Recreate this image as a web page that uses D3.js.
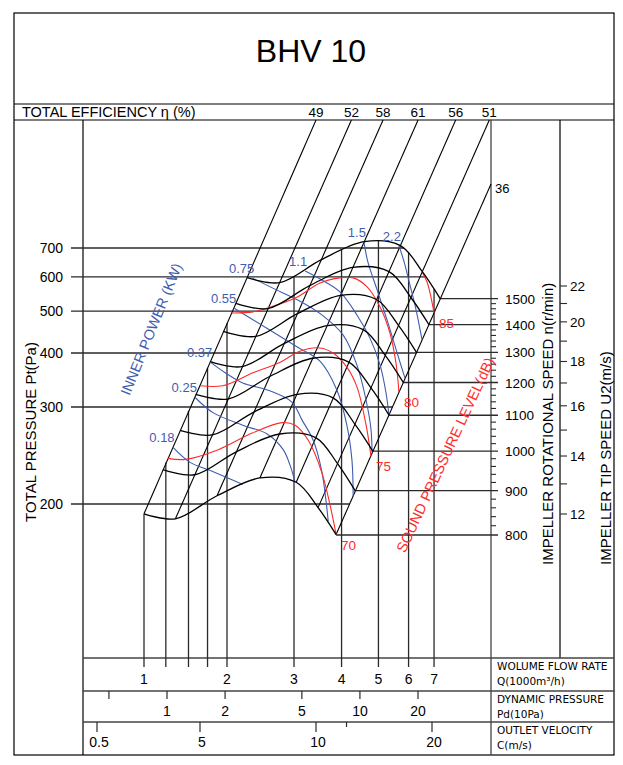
<!DOCTYPE html>
<html>
<head>
<meta charset="utf-8">
<title>BHV 10</title>
<script src="https://cdn.jsdelivr.net/npm/d3@7"></script>
<style>
    html, body { margin: 0; padding: 0; background: #fff; }
    svg { display: block; font-family: "Liberation Sans", Arial, sans-serif; }
</style>
</head>
<body>
<div id="chart"></div>
<script>
// values
const chartTitle = 'BHV 10';
const speeds = [800, 900, 1000, 1100, 1200, 1300, 1400, 1500];

// fan curves, one row per speed, points where the efficiency lines cross
const fanFlow = [
    [1.00, 1.30, 1.84, 2.44, 3.04, 3.47, 3.87],
    [1.17, 1.53, 2.12, 2.75, 3.42, 3.90, 4.35],
    [1.35, 1.77, 2.36, 3.06, 3.80, 4.34, 4.84],
    [1.54, 2.01, 2.59, 3.36, 4.18, 4.78, 5.33],
    [1.74, 2.19, 2.83, 3.67, 4.56, 5.21, 5.81],
    [1.94, 2.38, 3.07, 3.98, 4.94, 5.65, 6.30],
    [2.11, 2.56, 3.30, 4.28, 5.33, 6.09, 6.79],
    [2.26, 2.75, 3.54, 4.59, 5.71, 6.52, 7.27]
];
const fanPressure = [
    [192, 188, 207, 223, 219, 197, 176],
    [231, 226, 249, 268, 264, 237, 211],
    [272, 267, 294, 321, 315, 279, 249],
    [321, 313, 353, 389, 381, 332, 290],
    [382, 372, 421, 463, 453, 395, 342],
    [449, 437, 494, 544, 532, 463, 401],
    [521, 507, 573, 631, 617, 537, 465],
    [598, 582, 658, 724, 709, 617, 534]
];
const efficiencyLabels = ['49', '52', '58', '61', '56', '51', '36'];

// inner power (kW)
const powerLabels = ['0.18', '0.25', '0.37', '0.55', '0.75', '1.1', '1.5', '2.2'];
const powerFlow = [
    [1.27, 1.47, 1.74, 2.01, 2.20],
    [1.53, 1.78, 2.20, 2.55, 2.81, 2.93, 3.02],
    [1.74, 1.97, 2.20, 2.59, 2.96, 3.15, 3.37, 3.55, 3.64, 3.69],
    [2.09, 2.30, 2.59, 3.06, 3.51, 3.89, 4.13, 4.26, 4.29],
    [2.33, 2.63, 3.06, 3.55, 4.04, 4.39, 4.64, 4.78, 4.81],
    [3.21, 3.55, 3.96, 4.39, 4.75, 5.05, 5.23, 5.33],
    [4.58, 4.69, 4.96, 5.30, 5.59, 5.87],
    [5.66, 5.84, 6.05, 6.28, 6.51]
];
const powerPressure = [
    [254, 238, 230, 223, 217],
    [316, 293, 278, 268, 251, 235, 219],
    [381, 360, 341, 327, 308, 284, 261, 229, 203, 186],
    [508, 482, 452, 413, 383, 328, 278, 240, 207],
    [597, 566, 531, 490, 440, 375, 311, 273, 248],
    [619, 590, 554, 490, 433, 375, 325, 290],
    [723, 650, 560, 469, 402, 350],
    [709, 650, 575, 503, 429]
];

// sound pressure level (dB)
const soundLabels = ['70', '75', '80', '85'];
const soundFlow = [
    [1.22, 1.41, 1.86, 2.33, 2.79, 3.02, 3.27, 3.55, 3.78, 3.87],
    [1.60, 1.93, 2.34, 2.76, 3.11, 3.51, 3.80, 4.13, 4.39, 4.64, 4.78],
    [2.06, 2.34, 2.71, 3.06, 3.51, 3.96, 4.29, 4.67, 5.05, 5.36, 5.56, 5.66],
    [6.51, 6.71, 6.87, 7.00]
];
const soundPressure = [
    [242, 241, 251, 269, 281, 278, 261, 228, 191, 176],
    [336, 336, 360, 381, 404, 411, 400, 371, 334, 278, 244],
    [495, 498, 517, 539, 581, 597, 597, 569, 511, 445, 379, 325],
    [616, 584, 539, 495]
];

// axes
const pressureTicks = [200, 300, 400, 500, 600, 700];
const flowLines = [1, 1.2, 1.45, 1.7, 2, 3, 4, 5, 6, 7];
const flowTicks = [1, 2, 3, 4, 5, 6, 7];
const dynamicTicks = [0.5, 1, 2, 5, 10, 20];
const dynamicLabels = ['', '1', '2', '5', '10', '20'];
const velocityTicks = [0.5, 5, 10, 12, 20];
const velocityLabels = ['0.5', '5', '10', '', '20'];
const speedTicks = [800, 900, 1000, 1100, 1200, 1300, 1400, 1500];
const tipTicks = [12, 13, 14, 15, 16, 17, 18, 19, 20, 21, 22];
const tipLabels = ['12', '', '14', '', '16', '', '18', '', '20', '', '22'];
const rowCaptions = [
    ['WOLUME FLOW RATE', 'Q(1000m\u00b3/h)'],
    ['DYNAMIC PRESSURE', 'Pd(10Pa)'],
    ['OUTLET VELOCITY', 'C(m/s)']
];

const BLUE = '#3f5db0';
const RED = '#ff2a2a';
const INK = '#000';
const GRID = '#2a2a2a';

// sheet layout
const frame = { l: 14, r: 614, t: 13, b: 755 };
const rows = { title: 104, eff: 120, flow: 658, dyn: 691, vel: 722 };
const cols = { inner: 83, speed: 491, tip: 560 };

const x = d3.scaleLog().domain([1, 2, 10]).range([144, 227, 493]);
const y = d3.scaleLog().domain([200, 300, 700]).range([504, 407, 248]);
const speedY = d3.scaleLog().domain([800, 1500]).range([535, 298.6]);
const tipY = d3.scaleLog().domain([12, 22]).range([514, 286]);
const dynX = d3.scaleLog().domain([1, 20]).range([167, 418]);
const velX = d3.scaleLog().domain([0.5, 5, 20]).range([97, 200, 432]);

function toPixels(flows, pressures) {
    return flows.map((q, i) => [x(q), y(pressures[i])]);
}

function samplePath(node) {
    let len = node.getTotalLength();
    return d3.range(0, len, 1).concat([len]).map(l => {
        let p = node.getPointAtLength(l);
        return [p.x, p.y];
    });
}

// y on a polyline at a given x
function yAt(poly, px) {
    for (let i = 1; i < poly.length; i++) {
        let a = poly[i - 1], b = poly[i];
        if (px >= a[0] && px <= b[0] && b[0] > a[0]) {
            return a[1] + (b[1] - a[1]) * (px - a[0]) / (b[0] - a[0]);
        }
    }
    return null;
}

// x on a polyline at a given y (y growing along the line)
function xAt(poly, py) {
    for (let i = 1; i < poly.length; i++) {
        let a = poly[i - 1], b = poly[i];
        if (py >= a[1] && py <= b[1] && b[1] > a[1]) {
            return a[0] + (b[0] - a[0]) * (py - a[1]) / (b[1] - a[1]);
        }
    }
    return null;
}

class FanChart {
    constructor(el) {
        this.$el = el;
        this.svg = null;
        this.layers = {};
        this.init();
    }
    init() {
        this.renderSvg();
        this.renderFrame();
        this.renderNet();
        this.renderSideAxes();
        this.renderBottomScales();
        this.renderTitles();
    }

    renderSvg() {
        this.svg = d3.select(this.$el)
            .append('svg')
            .attr('width', 623)
            .attr('height', 765);
        this.svg.append('rect')
            .attr('width', 623)
            .attr('height', 765)
            .attr('fill', '#fff');
        ['frame', 'grid', 'net', 'power', 'sound', 'fan', 'text'].forEach(k => {
            this.layers[k] = this.svg.append('g').attr('class', k);
        });
    }

    line(layer, x1, y1, x2, y2, color, w) {
        return this.layers[layer].append('line')
            .attr('x1', x1).attr('y1', y1)
            .attr('x2', x2).attr('y2', y2)
            .attr('stroke', color || INK)
            .attr('stroke-width', w || 1);
    }

    text(str, px, py, opt = {}) {
        return this.layers.text.append('text')
            .attr('x', px)
            .attr('y', py)
            .attr('font-size', opt.size || 14)
            .attr('text-anchor', opt.anchor || 'start')
            .attr('fill', opt.color || INK)
            .attr('font-family', opt.family || null)
            .attr('transform', opt.rotate != null ? `rotate(${opt.rotate},${px},${py})` : null)
            .text(str);
    }

    renderFrame() {
        this.layers.frame.append('rect')
            .attr('x', frame.l).attr('y', frame.t)
            .attr('width', frame.r - frame.l)
            .attr('height', frame.b - frame.t)
            .attr('fill', 'none')
            .attr('stroke', INK)
            .attr('stroke-width', 1.2);
        this.line('frame', frame.l, rows.title, frame.r, rows.title, INK, 1.2);
        this.line('frame', frame.l, rows.eff, frame.r, rows.eff, INK, 1.2);
        this.line('frame', cols.inner, rows.eff, cols.inner, frame.b, INK, 1.2);
        this.line('frame', cols.speed, rows.eff, cols.speed, frame.b, '#444', 1.3);
        this.line('frame', cols.tip, rows.eff, cols.tip, rows.flow, INK, 1.2);
        [rows.flow, rows.dyn, rows.vel].forEach(r => {
            this.line('frame', cols.inner, r, frame.r, r, '#444', 1.3);
        });
    }

    renderNet() {
        let smooth = d3.line().curve(d3.curveCatmullRom);
        let fanPts = speeds.map((n, i) => toPixels(fanFlow[i], fanPressure[i]));

        let fans = this.layers.fan.selectAll('path')
            .data(fanPts)
            .join('path')
            .attr('d', smooth)
            .attr('fill', 'none')
            .attr('stroke', INK)
            .attr('stroke-width', 1.3);

        // outer edges of the net: left ends + top curve, top curve + right ends
        let top = samplePath(fans.nodes()[fans.size() - 1]);
        let upper = fanPts.slice(0, -1).map(p => p[0]).concat(top);
        let peak = d3.minIndex(top, p => p[1]);
        let right = top.slice(peak)
            .concat(fanPts.slice(0, -1).reverse().map(p => p[p.length - 1]));

        // efficiency lines run through matching points of every curve
        efficiencyLabels.forEach((label, k) => {
            let pts = fanPts.map(p => p[k]);
            let a = pts[0], b = pts[pts.length - 1];
            let dx = b[0] - a[0], dy = b[1] - a[1];
            let last = k === efficiencyLabels.length - 1;
            let t = last ? (cols.speed - b[0]) / dx : (rows.eff - b[1]) / dy;
            let end = [b[0] + t * dx, b[1] + t * dy];
            this.line('net', a[0], a[1], end[0], end[1], INK, 1.1);
            if (last) {
                this.text(label, end[0] + 4, end[1] + 9, { size: 13 });
            } else {
                this.text(label, end[0], rows.eff - 3, { size: 13.5, anchor: 'middle' });
            }
        });

        // flow lines, from the top of the net down into the flow row
        flowLines.forEach(q => {
            let px = x(q);
            this.line('grid', px, yAt(upper, px), px, rows.flow + 9, GRID, 1.3);
        });

        // pressure lines, from the axis to the right edge of the net
        pressureTicks.forEach(p => {
            let py = y(p);
            this.line('grid', 71, py, xAt(right, py), py, GRID, 1.3);
            this.text(p, 63, py + 5, { anchor: 'end' });
        });

        // speed lines, from each curve end to the speed axis
        speeds.forEach((n, i) => {
            let end = fanPts[i][fanPts[i].length - 1];
            this.line('grid', end[0], speedY(n), cols.speed + 7, speedY(n), GRID, 1.3);
        });

        this.renderFamily(this.layers.power, powerFlow, powerPressure, BLUE);
        powerFlow.forEach((flows, i) => {
            let px = x(flows[0]), py = y(powerPressure[i][0]);
            this.text(powerLabels[i], px + 2, py - 5, { size: 13, anchor: 'end', color: BLUE });
        });

        this.renderFamily(this.layers.sound, soundFlow, soundPressure, RED);
        soundFlow.forEach((flows, i) => {
            let n = flows.length - 1;
            let px = x(flows[n]), py = y(soundPressure[i][n]);
            this.text(soundLabels[i], px + 5, py + 15, { size: 13.5, color: RED });
        });
    }

    renderFamily(layer, flows, pressures, color) {
        layer.selectAll('path')
            .data(flows.map((f, i) => toPixels(f, pressures[i])))
            .join('path')
            .attr('d', d3.line().curve(d3.curveCatmullRom))
            .attr('fill', 'none')
            .attr('stroke', color)
            .attr('stroke-width', 1.1);
    }

    renderSideAxes() {
        // rotational speed
        speedTicks.forEach(n => {
            this.text(n, cols.speed + 14, speedY(n) + 5, { size: 13.5 });
        });
        d3.range(820, 1500, 20).filter(n => n % 100).forEach(n => {
            this.line('grid', cols.speed, speedY(n), cols.speed + 5, speedY(n), GRID, 1.1);
        });
        // tip speed
        tipTicks.forEach((u, i) => {
            this.line('grid', cols.tip, tipY(u), cols.tip + 7, tipY(u), GRID, 1.1);
            if (tipLabels[i]) this.text(tipLabels[i], cols.tip + 10, tipY(u) + 5, { size: 13.5 });
        });
    }

    renderBottomScales() {
        flowTicks.forEach(q => {
            this.text(q, x(q), rows.flow + 26, { anchor: 'middle' });
        });
        dynamicTicks.forEach((v, i) => {
            this.line('grid', dynX(v), rows.dyn, dynX(v), rows.dyn + 8, GRID, 1.2);
            if (dynamicLabels[i]) this.text(dynamicLabels[i], dynX(v), rows.dyn + 25, { anchor: 'middle' });
        });
        velocityTicks.forEach((v, i) => {
            let len = velocityLabels[i] ? 10 : 5;
            this.line('grid', velX(v), rows.vel, velX(v), rows.vel + len, GRID, 1.2);
            if (velocityLabels[i]) this.text(velocityLabels[i], velX(v) + 2, rows.vel + 25, { anchor: 'middle' });
        });
        let rowTops = [rows.flow, rows.dyn, rows.vel];
        rowCaptions.forEach((c, i) => {
            this.text(c[0], cols.speed + 6, rowTops[i] + 12, { size: 10.5, family: 'DejaVu Sans' });
            this.text(c[1], cols.speed + 6, rowTops[i] + 27, { size: 10.5, family: 'DejaVu Sans' });
        });
    }

    renderTitles() {
        this.text(chartTitle, 311, 62, { size: 32, anchor: 'middle' });
        this.text('TOTAL EFFICIENCY \u03b7 (%)', 22, 117, { size: 14.5 });
        this.text('TOTAL PRESSURE Pt(Pa)', 36, 432, { size: 15, anchor: 'middle', rotate: -90 });
        this.text('IMPELLER ROTATIONAL SPEED n(r/min)', 553, 565, { size: 15, rotate: -90 });
        this.text('IMPELLER TIP SPEED U2(m/s)', 611, 565, { size: 15, rotate: -90 });
        this.text('INNER POWER (KW)', 156, 331, { size: 14.5, anchor: 'middle', color: BLUE, rotate: -68 });
        this.text('SOUND PRESSURE LEVEL(dB)', 450, 457, { size: 14.5, anchor: 'middle', color: RED, rotate: -65 });
    }
}

new FanChart(document.getElementById('chart'));
</script>
</body>
</html>
